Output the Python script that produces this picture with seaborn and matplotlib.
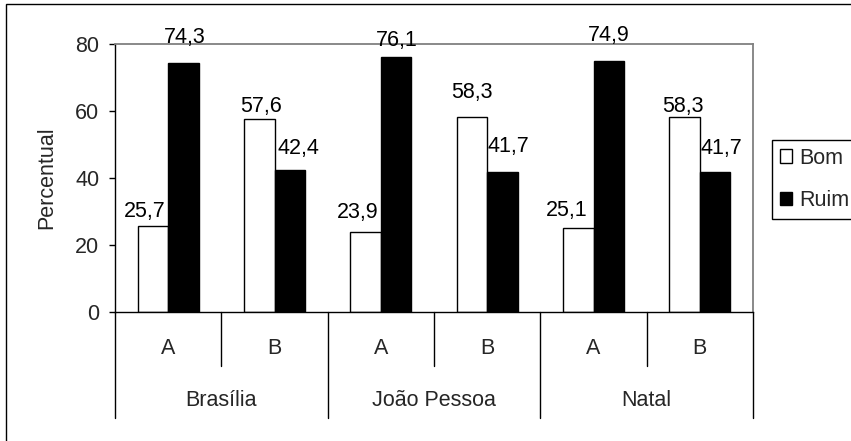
import matplotlib
matplotlib.use("Agg")
import matplotlib.pyplot as plt
import matplotlib.patches as mpatches
import pandas as pd
import seaborn as sb

# data
cities = ["Brasília", "João Pessoa", "Natal"]
groups = ["A", "B"]
series = ["Bom", "Ruim"]
bom = [25.7, 57.6, 23.9, 58.3, 25.1, 58.3]
ruim = [74.3, 42.4, 76.1, 41.7, 74.9, 41.7]
yticks = [0, 20, 40, 60, 80]

# hand placed label nudges (pixels), like the original
bom_dx = [-8, 2, -8, 0, -12, -1.5]
bom_dy = [9, 7, 14, 19, 12, 5]
ruim_dx = [1, 9, 1, 6, 0, 6]
ruim_dy = [20, 16, 11, 20, 20, 18]

W, H = 851, 441
FS = 15.5

sb.set_theme(style="white")
plt.rcParams['font.family'] = ['Liberation Sans', 'DejaVu Sans']

cats = [c + " " + g for c in cities for g in groups]
df = pd.DataFrame({
    "cat": cats * 2,
    "serie": ["Bom"] * len(cats) + ["Ruim"] * len(cats),
    "valor": bom + ruim,
})

fig = plt.figure(figsize=(W / 100, H / 100), dpi=100)
ax = fig.add_axes([115 / W, 1 - 312 / H, (753 - 115) / W, (312 - 44) / H])

sb.barplot(data=df, x="cat", y="valor", hue="serie", order=cats, hue_order=series,
           palette=["white", "black"], edgecolor="black", linewidth=1.0,
           width=0.575, gap=0, legend=False, ax=ax)

ax.set_xlim(-0.5, len(cats) - 0.5)
ax.set_ylim(0, 80)
ax.set_yticks(yticks)
ax.set_yticklabels([str(t) for t in yticks], fontsize=FS)
ax.tick_params(axis="y", direction="out", length=4.3, width=1, color="black", pad=7, left=True)
ax.set_xticks([])
ax.set_xlabel("")
ax.set_ylabel("Percentual", fontsize=FS)
ax.yaxis.set_label_coords(-0.09, 0.5)

for side in ["left", "bottom"]:
    ax.spines[side].set_color("black")
    ax.spines[side].set_linewidth(1.0)
for side in ["top", "right"]:
    ax.spines[side].set_color("#808080")
    ax.spines[side].set_linewidth(1.3)

# data labels with decimal comma
offs = [(bom_dx, bom_dy), (ruim_dx, ruim_dy)]
for cont, (dxs, dys) in zip(ax.containers, offs):
    for bar, dx, dy in zip(cont.patches, dxs, dys):
        v = bar.get_height()
        ax.annotate(f"{v:.1f}".replace(".", ","),
                    xy=(bar.get_x() + bar.get_width() / 2, v),
                    xytext=(dx * 0.72, dy * 0.72), textcoords="offset points",
                    ha="center", va="baseline", fontsize=FS, color="black",
                    annotation_clip=False)

# two level category axis
tr = ax.get_xaxis_transform()
y_sub = -(366 - 312) / (312 - 44)
y_grp = -(418 - 312) / (312 - 44)
for i in range(len(cats) + 1):
    x = i - 0.5
    y_end = y_grp if i % len(groups) == 0 else y_sub
    ax.plot([x, x], [0, y_end], transform=tr, color="black", lw=1.0, clip_on=False)
for i, c in enumerate(cats):
    ax.text(i, -(348 - 312) / (312 - 44), c.split(" ")[-1], transform=tr,
            ha="center", va="center", fontsize=FS)
for j, city in enumerate(cities):
    xc = j * len(groups) + (len(groups) - 1) / 2
    ax.text(xc, -(400 - 312) / (312 - 44), city, transform=tr,
            ha="center", va="center", fontsize=FS)

leg = ax.legend(handles=ax.containers, labels=series, loc="upper left",
                bbox_to_anchor=(772 / W, 1 - 140 / H), bbox_transform=fig.transFigure,
                borderaxespad=0, fontsize=FS, frameon=True, fancybox=False,
                handlelength=0.6, handleheight=0.6, handletextpad=0.3,
                borderpad=0.35, labelspacing=1.0)
leg.get_frame().set_edgecolor("black")
leg.get_frame().set_linewidth(1.0)
leg.get_frame().set_alpha(1)

# outer chart frame, open at right and bottom like the clipped original
fig.patches.append(mpatches.Rectangle((6 / W, -0.1), 1.2, 1.1 - 4 / H, transform=fig.transFigure,
                                      fill=False, edgecolor="black", lw=1.0))

fig.savefig("out.png", dpi=100)
